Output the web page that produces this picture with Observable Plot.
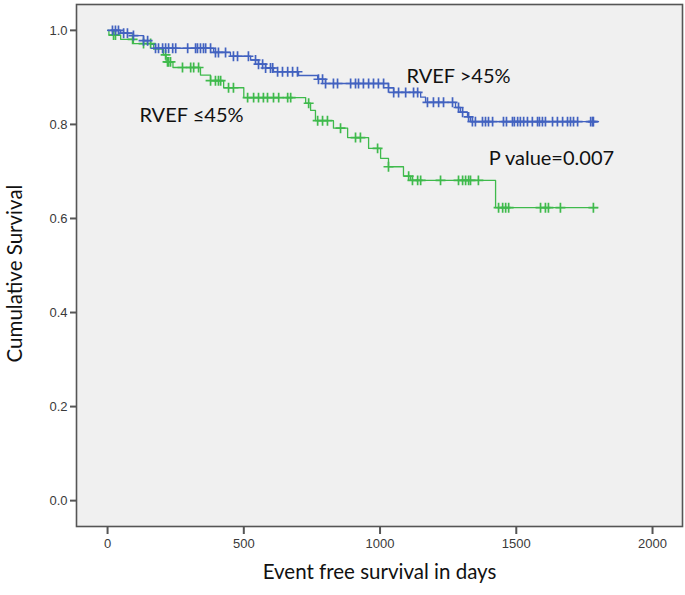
<!DOCTYPE html>
<html>
<head>
<meta charset="utf-8">
<script src="https://cdn.jsdelivr.net/npm/d3@7"></script>
<script src="https://cdn.jsdelivr.net/npm/@observablehq/plot@0.6"></script>
<style>
  html, body { margin: 0; padding: 0; background: #ffffff; }
</style>
</head>
<body>
<div id="chart"></div>
<script>
// ---- Data ----
const seriesNames = ["RVEF >45%", "RVEF \u226445%"];

// RVEF >45% : event times (days) and survival after each event
const blueTimes = [48, 95, 132, 158, 176, 389, 451, 525, 554, 580, 609, 701, 771, 800, 1031, 1050, 1149, 1167, 1277, 1295, 1321, 1332];
const blueSurv  = [0.994, 0.989, 0.978, 0.970, 0.962, 0.953, 0.945, 0.937, 0.928, 0.920, 0.912, 0.904, 0.896, 0.887, 0.878, 0.868, 0.858, 0.847, 0.836, 0.826, 0.816, 0.806];
const blueEnd = 1802;
const blueCensor = [18, 29, 40, 59, 73, 95, 132, 147, 176, 187, 202, 213, 224, 239, 250, 294, 323, 330, 341, 352, 360, 378, 396, 407, 433, 462, 477, 517, 543, 554, 569, 580, 598, 606, 624, 642, 661, 679, 697, 774, 789, 800, 829, 844, 892, 910, 921, 939, 958, 976, 994, 1013, 1031, 1050, 1068, 1094, 1123, 1138, 1174, 1196, 1215, 1233, 1266, 1288, 1303, 1325, 1339, 1350, 1376, 1387, 1398, 1413, 1453, 1464, 1486, 1493, 1505, 1515, 1527, 1541, 1559, 1578, 1585, 1596, 1607, 1633, 1651, 1670, 1688, 1699, 1710, 1725, 1773, 1780, 1783];

// RVEF <=45%
const greenTimes = [5, 48, 95, 169, 205, 215, 240, 341, 378, 426, 500, 727, 745, 763, 829, 881, 958, 1002, 1031, 1086, 1112, 1424];
const greenSurv  = [0.990, 0.981, 0.972, 0.960, 0.948, 0.933, 0.921, 0.905, 0.893, 0.878, 0.857, 0.845, 0.830, 0.808, 0.792, 0.772, 0.749, 0.728, 0.710, 0.690, 0.681, 0.623];
const greenEnd = 1798;
const greenCensor = [22, 29, 92, 132, 158, 213, 220, 224, 231, 275, 305, 316, 334, 378, 396, 407, 415, 444, 462, 514, 536, 554, 572, 587, 609, 628, 661, 672, 738, 771, 789, 807, 855, 910, 928, 991, 1031, 1105, 1119, 1138, 1149, 1222, 1288, 1303, 1314, 1325, 1332, 1361, 1435, 1450, 1461, 1472, 1589, 1607, 1618, 1662, 1783];

const xTicks = [0, 500, 1000, 1500, 2000];
const yTicks = [0.0, 0.2, 0.4, 0.6, 0.8, 1.0];

// Annotations (data coordinates)
const annoText = ["RVEF >45%", "RVEF \u226445%", "P value=0.007"];
const annoDay  = [1288, 308, 1629];
const annoSurv = [0.902, 0.819, 0.728];

const xTitle = "Event free survival in days";
const yTitle = "Cumulative Survival";

// ---- Build tables ----
function stepTable(times, surv, end, group) {
  const rows = [{t: 0, s: 1, g: group}];
  times.forEach((t, i) => rows.push({t, s: surv[i], g: group}));
  rows.push({t: end, s: surv[surv.length - 1], g: group});
  return rows;
}
function survAt(times, surv, t) {
  let s = 1;
  for (let i = 0; i < times.length; i++) if (times[i] <= t) s = surv[i];
  return s;
}
const blueLine = stepTable(blueTimes, blueSurv, blueEnd, seriesNames[0]);
const greenLine = stepTable(greenTimes, greenSurv, greenEnd, seriesNames[1]);
const blueMarks = blueCensor.map(t => ({t, s: survAt(blueTimes, blueSurv, t)}));
const greenMarks = greenCensor.map(t => ({t, s: survAt(greenTimes, greenSurv, t)}));
const annos = annoText.map((text, i) => ({text, t: annoDay[i], s: annoSurv[i]}));

const BLUE = "#4262c0";
const GREEN = "#3fba4c";
const TITLE_FONT = "Lato, Open Sans, sans-serif";

const chart = Plot.plot({
  width: 685,
  height: 595,
  marginLeft: 76,
  marginRight: 3,
  marginTop: 4,
  marginBottom: 69,
  style: {fontFamily: "Liberation Sans, Arial, sans-serif", background: "#ffffff"},
  x: {domain: [-114, 2110], ticks: xTicks, label: null},
  y: {domain: [-0.055, 1.055], ticks: yTicks, label: null},
  marks: [
    Plot.frame({fill: "#f0f0f0", stroke: null}),
    Plot.line(greenLine, {x: "t", y: "s", curve: "step-after", stroke: GREEN, strokeWidth: 1.3}),
    Plot.line(blueLine, {x: "t", y: "s", curve: "step-after", stroke: BLUE, strokeWidth: 1.3}),
    Plot.dot(greenMarks, {x: "t", y: "s", symbol: "plus", r: 3.3, stroke: GREEN, strokeWidth: 1.7}),
    Plot.dot(blueMarks, {x: "t", y: "s", symbol: "plus", r: 3.3, stroke: BLUE, strokeWidth: 1.7}),
    Plot.frame({stroke: "#555555", strokeWidth: 1.6}),
    Plot.axisY(yTicks, {tickSize: 6, tickPadding: 3, tickFormat: d3.format(".1f"), fontSize: 13, fill: "#3a3a3a", stroke: "#555", strokeWidth: 2, label: null}),
    Plot.axisX(xTicks, {tickSize: 8, tickPadding: 4, tickFormat: d => String(d), fontSize: 13, fill: "#3a3a3a", stroke: "#555", strokeWidth: 2, label: null}),
    Plot.text(annos, {x: "t", y: "s", text: "text", fontSize: 20, fill: "#111", fontFamily: TITLE_FONT}),
    Plot.text([xTitle], {frameAnchor: "bottom", dy: 52, fontSize: 20.5, fill: "#111", fontFamily: TITLE_FONT}),
    Plot.text([yTitle], {frameAnchor: "left", textAnchor: "middle", dx: -61, dy: 8, rotate: -90, fontSize: 20.5, fill: "#111", fontFamily: TITLE_FONT})
  ]
});
document.getElementById("chart").appendChild(chart);
</script>
</body>
</html>
